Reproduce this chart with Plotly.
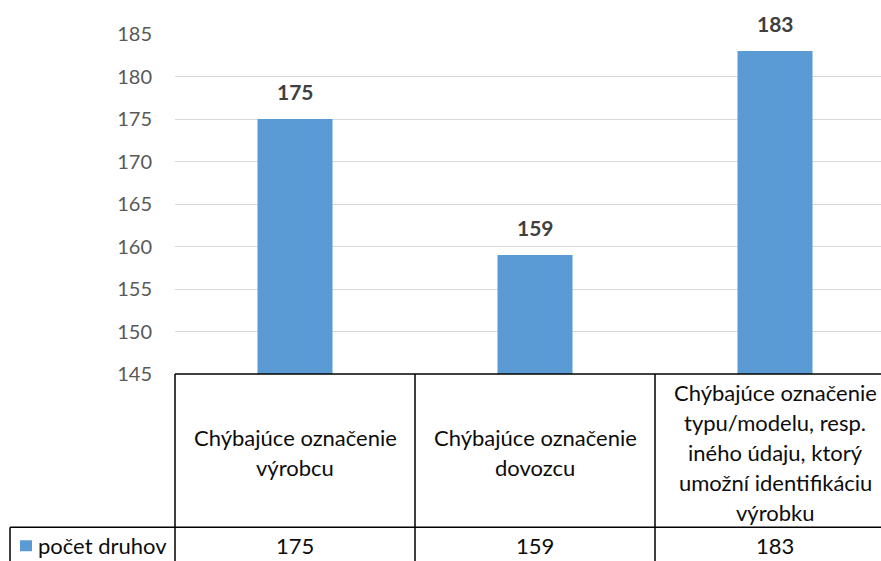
import plotly.graph_objects as go

# ---- data ----
categories = [
    "Chýbajúce označenie<br>výrobcu",
    "Chýbajúce označenie<br>dovozcu",
    "Chýbajúce označenie<br>typu/modelu, resp.<br>iného údaju, ktorý<br>umožní identifikáciu<br>výrobku",
]
values = [175, 159, 183]
series_name = "počet druhov"
y_ticks = [145, 150, 155, 160, 165, 170, 175, 180, 185]

# ---- layout constants ----
W, H = 881, 561
ML, MR, MT, MB = 175, 0, 34, 186.5
PW = W - ML - MR
PH = H - MT - MB
BAR_COLOR = "#5B9BD5"
FONT = "Lato"
TXT = "#0D0D0D"

def px(xp):
    return (xp - ML) / PW

def py(yp):
    return (H - MB - yp) / PH

x_idx = list(range(len(categories)))
cat_w = 240.0  # pixels per category
x_right = -0.5 + PW / cat_w

fig = go.Figure()
fig.add_trace(go.Bar(
    x=x_idx, y=values, width=0.3125, marker=dict(color=BAR_COLOR, line=dict(width=0)),
    name=series_name, showlegend=False, hoverinfo="skip",
))

annotations = []
# data labels
for i, v in zip(x_idx, values):
    annotations.append(dict(
        x=i, y=v, xref="x", yref="y", text=f"<b>{v}</b>", showarrow=False,
        yanchor="bottom", yshift=13, font=dict(family=FONT, size=21, color="#404040"),
    ))

table_top = H - MB
row_line = 528
bottom = H
mid_cat = (table_top + row_line) / 2 + 2
line_h = 30

# category cells
for i, lab in zip(x_idx, categories):
    lines = lab.split("<br>")
    n = len(lines)
    for k, ln in enumerate(lines):
        yc = mid_cat + (k - (n - 1) / 2) * line_h
        annotations.append(dict(
            x=i, y=py(yc), xref="x", yref="paper", text=ln, showarrow=False,
            yanchor="middle", xanchor="center", font=dict(family=FONT, size=22, color=TXT),
        ))

# value row
val_y = 546
for i, v in zip(x_idx, values):
    annotations.append(dict(
        x=i, y=py(val_y), xref="x", yref="paper", text=str(v), showarrow=False,
        yanchor="middle", xanchor="center", font=dict(family=FONT, size=22, color=TXT),
    ))
annotations.append(dict(
    x=px(36), y=py(val_y), xref="paper", yref="paper", text=series_name, showarrow=False,
    yanchor="middle", xanchor="left", font=dict(family=FONT, size=22, color=TXT),
))

shapes = []
lw = 1.5
def hline(x0, x1, y):
    shapes.append(dict(type="line", xref="paper", yref="paper", x0=px(x0), x1=px(x1),
                       y0=py(y), y1=py(y), line=dict(color="#000000", width=lw)))
def vline(x, y0, y1):
    shapes.append(dict(type="line", xref="paper", yref="paper", x0=px(x), x1=px(x),
                       y0=py(y0), y1=py(y1), line=dict(color="#000000", width=lw)))

hline(ML, W + 5, table_top)
hline(10, W + 5, row_line)
vline(ML, table_top, bottom + 5)
vline(ML + cat_w, table_top, bottom + 5)
vline(ML + 2 * cat_w, table_top, bottom + 5)
vline(10, row_line, bottom + 5)
# legend key
shapes.append(dict(type="rect", xref="paper", yref="paper", x0=px(20), x1=px(32),
                   y0=py(552), y1=py(541), fillcolor=BAR_COLOR, line=dict(width=0)))

fig.update_layout(
    width=W, height=H,
    margin=dict(l=ML, r=MR, t=MT, b=MB, pad=0),
    paper_bgcolor="white", plot_bgcolor="white",
    xaxis=dict(range=[-0.5, x_right], showticklabels=False, showgrid=False, zeroline=False,
               showline=False, fixedrange=True),
    yaxis=dict(range=[145, 185], tickvals=y_ticks, showgrid=True, gridcolor="#D9D9D9",
               gridwidth=1, zeroline=False, showline=False, fixedrange=True,
               tickfont=dict(family=FONT, size=20, color="#595959"), ticklabelstandoff=22),
    annotations=annotations, shapes=shapes, showlegend=False,
    font=dict(family=FONT),
)

fig.write_html(
    "out.html",
    config={"displayModeBar": False},
    post_script="document.body.style.margin='0';document.body.style.overflow='hidden';",
)
